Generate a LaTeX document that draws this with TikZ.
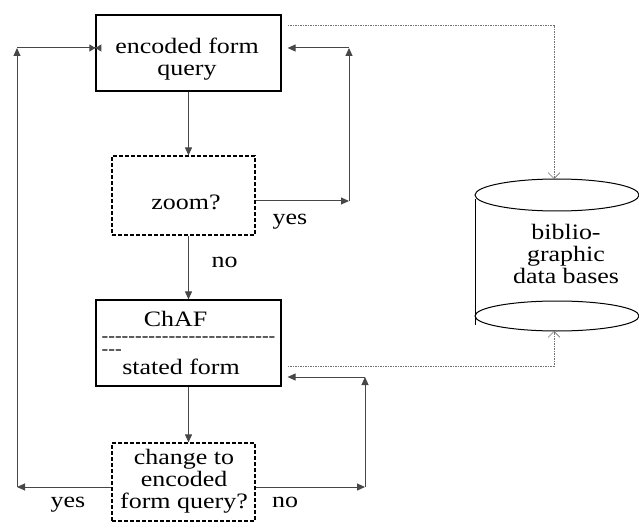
\documentclass[tikz,border=0pt]{standalone}
\usepackage{fontspec}
\setmainfont{Liberation Serif}[FakeStretch=1.18]
\newfontfamily\dashfont{Liberation Serif}[FakeStretch=1.18, Ligatures=TeXOff]
\usetikzlibrary{arrows.meta}

\begin{document}
\begin{tikzpicture}[x=1pt, y=-1pt,
        every node/.style={font=\fontsize{22}{22}\selectfont},
        solidbox/.style={rectangle, draw, line width=1.2pt, inner sep=0pt},
        askbox/.style={rectangle, draw, line width=1.2pt, inner sep=0pt,
            dash pattern=on 4pt off 2pt},
        txt/.style={align=center, inner sep=0pt},
        dashrow/.style={font=\dashfont\fontsize{17}{13}\selectfont,
            inner sep=0pt, anchor=base west, text height=6pt, text depth=0pt},
        arrow/.style={-{Triangle[length=8pt,width=7pt]}, draw=black!72,
            line width=1pt},
        dotline/.style={-{Straight Barb[length=6pt,width=12pt]},
            draw=black!55, line width=0.6pt, dash pattern=on 1.5pt off 1pt},
        label/.style={anchor=base, inner sep=0pt}
      ]
      \useasboundingbox (0,0) rectangle (639,529);
      % boxes
      \node[solidbox, minimum width=185pt, minimum height=76pt]
      (enc) at (188.5, 53) {};
      \node[askbox, minimum width=143pt, minimum height=79pt]
      (zoom) at (183.5, 195.5) {};
      \node[solidbox, minimum width=185pt, minimum height=86pt]
      (chaf) at (188.5, 343) {};
      \node[askbox, minimum width=143pt, minimum height=78pt]
      (chg) at (183.5, 482) {};
      % texts in boxes
      \node[txt] (enctxt)  at (187, 59)    {encoded form\\query};
      \node[txt] (zoomtxt) at (186, 202.5) {zoom?};
      \node[txt] (chaftxt) at (175.5, 318.6) {ChAF};
      \node[dashrow] (row1) at (101.5, 341) {--------------------------};
      \node[dashrow] (row2) at (101.5, 354) {---};
      \node[txt] (stattxt) at (181, 366.5) {stated form};
      \node[txt] (chgtxt)  at (184, 481)   {change to\\encoded\\form query?};
      % data bases
      \draw[line width=1pt] (557, 195) ellipse [x radius=82pt, y radius=16pt];
      \draw[line width=1pt] (557, 316) ellipse [x radius=82pt, y radius=15pt];
      \draw[line width=1pt] (475, 199) -- (475, 325);
      \node[txt] (dbtxt) at (566, 253.5) {biblio-\\graphic\\data bases};
      \coordinate (dbtop) at (554, 179);
      \coordinate (dbbot) at (554, 331);
      % corners
      \coordinate (rt1) at (349, 201);
      \coordinate (rt2) at (349, 48);
      \coordinate (rb1) at (365, 487);
      \coordinate (rb2) at (365, 377);
      \coordinate (lc1) at (17, 487);
      \coordinate (lc2) at (17, 48);
      \coordinate (dt) at (554, 25);
      \coordinate (db) at (554, 366);
      % flow
      \draw[arrow] (enc.south) -- (enc.south |- zoom.north);
      \draw[arrow] (enc.south |- zoom.south) -- (enc.south |- chaf.north);
      \draw[arrow] (chaf.south) -- (chaf.south |- chg.north);
      \draw[arrow] (zoom.east |- rt1) -- (rt1);
      \draw[arrow] (rt1) -- (rt2);
      \draw[arrow, shorten >=6pt] (rt2) -- (enc.east |- rt2);
      \draw[arrow] (chg.east |- rb1) -- (rb1);
      \draw[arrow] (rb1) -- (rb2);
      \draw[arrow, shorten >=6pt] (rb2) -- (chaf.east |- rb2);
      \draw[arrow] (chg.west |- lc1) -- (lc1);
      \draw[arrow] (lc1) -- (lc2);
      \draw[arrow, -{Triangle[length=6pt,width=7pt]
          Triangle[length=6pt,width=7pt,reversed]}, shorten >=-6pt]
      (lc2) -- (enc.west |- lc2);
      \draw[dotline, shorten <=6pt] (enc.east |- dt) -- (dt) -- (dbtop);
      \draw[dotline, shorten <=6pt] (chaf.east |- db) -- (db) -- (dbbot);
      % answers
      \node[label] (yes1) at (290, 225) {yes};
      \node[label] (no1)  at (224.5, 267) {no};
      \node[label] (yes2) at (68, 507) {yes};
      \node[label] (no2)  at (285, 507) {no};
    \end{tikzpicture}
\end{document}
